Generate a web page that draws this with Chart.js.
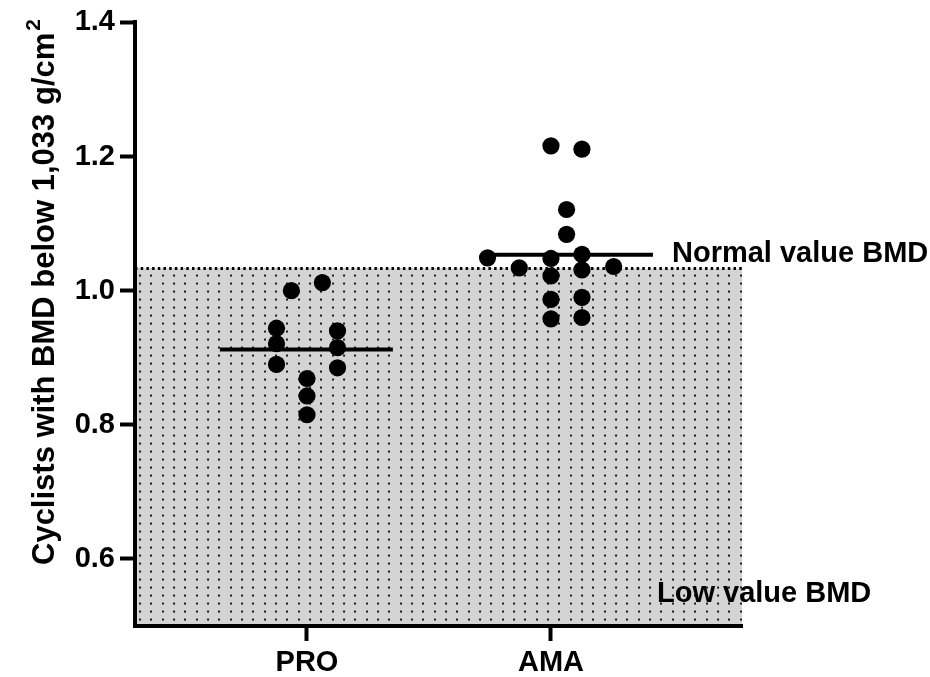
<!DOCTYPE html>
<html>
<head>
<meta charset="utf-8">
<script src="https://cdn.jsdelivr.net/npm/chart.js@4/dist/chart.umd.min.js"></script>
<style>
  html, body { margin: 0; padding: 0; background: #fff; }
  canvas { display: block; }
</style>
</head>
<body>
<canvas id="bmd" width="930" height="677"></canvas>
<script>
// Groups on the x axis
const categories = ['PRO', 'AMA'];

// Bone mineral density (g/cm2) per cyclist, with the horizontal spread of each dot
const proBmd    = [1.000, 1.012, 0.944, 0.921, 0.890, 0.940, 0.915, 0.885, 0.869, 0.843, 0.815];
const proSpread = [-0.064, 0.063, -0.125, -0.125, -0.125, 0.125, 0.125, 0.125, 0, 0, 0];
const amaBmd    = [1.216, 1.211, 1.121, 1.084, 1.049, 1.048, 1.054, 1.034, 1.036, 1.031, 1.022, 0.987, 0.990, 0.958, 0.960];
const amaSpread = [0, 0.127, 0.064, 0.064, -0.26, 0, 0.127, -0.13, 0.257, 0.127, 0, 0, 0.127, 0, 0.127];

// Axis ticks and reference level
const yTicks = [0.6, 0.8, 1.0, 1.2, 1.4];
const normalThreshold = 1.033;

const axisTitle = 'Cyclists with BMD below 1,033 g/cm';
const axisTitleSup = '2';
const normalLabel = 'Normal value BMD';
const lowLabel = 'Low value BMD';

const FONT = '"Liberation Sans", Arial, Helvetica, sans-serif';
const mean = a => a.reduce((s, v) => s + v, 0) / a.length;

// Stippled fill used for the low-BMD zone
function makeStipple() {
  const t = document.createElement('canvas');
  t.width = 34; t.height = 24;
  const g = t.getContext('2d');
  g.fillStyle = '#d4d4d4';
  g.fillRect(0, 0, t.width, t.height);
  g.fillStyle = '#1a1a1a';
  [2, 13, 25].forEach(x => [2, 10, 18].forEach(y => g.fillRect(x, y, 2, 2)));
  return t;
}

const lowZonePlugin = {
  id: 'lowZone',
  beforeDraw(chart) {
    const { ctx, chartArea: a, scales: { y } } = chart;
    const top = y.getPixelForValue(normalThreshold);
    ctx.save();
    const pat = ctx.createPattern(makeStipple(), 'repeat');
    pat.setTransform(new DOMMatrix().translate(a.left + 2, top + 4));
    ctx.fillStyle = pat;
    ctx.fillRect(a.left, top, a.right - a.left, a.bottom - top);
    // dotted upper edge
    ctx.strokeStyle = '#000';
    ctx.lineWidth = 3;
    ctx.setLineDash([2.5, 3.2]);
    ctx.beginPath();
    ctx.moveTo(a.left, top);
    ctx.lineTo(a.right, top);
    ctx.stroke();
    ctx.restore();
  },
  afterDraw(chart) {
    const { ctx, chartArea: a, scales: { y } } = chart;
    ctx.save();
    ctx.fillStyle = '#000';
    ctx.font = 'bold 29px ' + FONT;
    ctx.textAlign = 'left';
    ctx.textBaseline = 'alphabetic';
    ctx.fillText(normalLabel, a.right - 70, y.getPixelForValue(normalThreshold) - 7);
    ctx.fillText(lowLabel, a.right - 85, a.bottom - 24);

    // rotated y-axis title with superscript
    ctx.translate(54, 565);
    ctx.rotate(-Math.PI / 2);
    ctx.font = 'bold 31px ' + FONT;
    ctx.fillText(axisTitle, 0, 0);
    const w = ctx.measureText(axisTitle).width;
    ctx.font = 'bold 21px ' + FONT;
    ctx.fillText(axisTitleSup, w + 2, -14);
    ctx.restore();
  }
};

const dots = (vals, spread, idx) => vals.map((v, i) => ({ x: idx + 1 + spread[i], y: v }));

const meanLine = (vals, x0, x1) => {
  const m = mean(vals);
  return [{ x: x0, y: m }, { x: x1, y: m }];
};

new Chart(document.getElementById('bmd'), {
  data: {
    datasets: [
      { type: 'line', data: meanLine(proBmd, 0.643, 1.352), borderColor: '#000', borderWidth: 4, pointRadius: 0, order: 2 },
      { type: 'line', data: meanLine(amaBmd, 1.758, 2.418), borderColor: '#000', borderWidth: 4, pointRadius: 0, order: 2 },
      { type: 'scatter', label: categories[0], data: dots(proBmd, proSpread, 0), backgroundColor: '#000', borderWidth: 0, pointRadius: 8.6, order: 1 },
      { type: 'scatter', label: categories[1], data: dots(amaBmd, amaSpread, 1), backgroundColor: '#000', borderWidth: 0, pointRadius: 8.6, order: 1 }
    ]
  },
  options: {
    responsive: false,
    animation: false,
    devicePixelRatio: 1,
    layout: { padding: { top: 20, right: 188, bottom: 0, left: 0 } },
    plugins: { legend: { display: false }, tooltip: { enabled: false } },
    scales: {
      x: {
        type: 'linear',
        min: 0.295,
        max: 2.783,
        afterBuildTicks: s => { s.ticks = categories.map((c, i) => ({ value: i + 1 })); },
        afterFit: s => { s.height = 51; },
        ticks: {
          callback: (v, i) => categories[i],
          font: { family: FONT, size: 29, weight: 'bold' },
          color: '#000',
          padding: 5,
          maxRotation: 0,
          autoSkip: false
        },
        grid: { drawOnChartArea: false, drawTicks: true, tickLength: 15, tickWidth: 4, tickColor: '#000' },
        border: { display: true, color: '#000', width: 4 }
      },
      y: {
        type: 'linear',
        min: 0.5,
        max: 1.4,
        afterBuildTicks: s => { s.ticks = yTicks.map(v => ({ value: v })); },
        afterFit: s => { s.width = 135; },
        ticks: {
          callback: v => v.toFixed(1),
          font: { family: FONT, size: 29, weight: 'bold' },
          color: '#000',
          padding: 5,
          autoSkip: false
        },
        grid: { drawOnChartArea: false, drawTicks: true, tickLength: 15, tickWidth: 4, tickColor: '#000' },
        border: { display: true, color: '#000', width: 4 }
      }
    }
  },
  plugins: [lowZonePlugin]
});
</script>
</body>
</html>
